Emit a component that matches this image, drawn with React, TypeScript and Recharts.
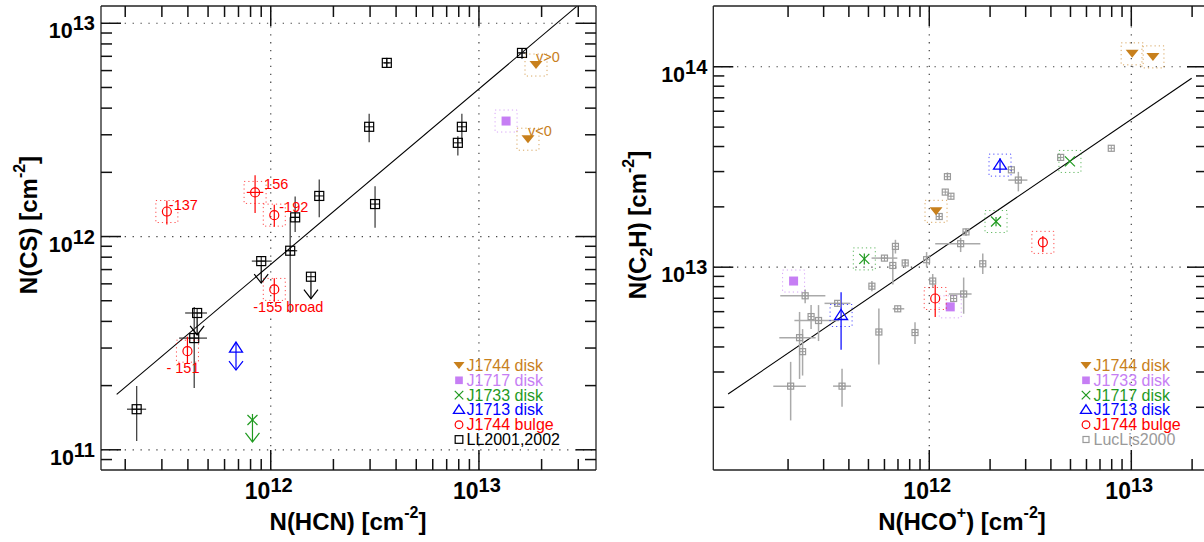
import React from "react";
import { ScatterChart, Scatter, XAxis, YAxis, ErrorBar, ReferenceLine } from "recharts";

const FONT = "'Liberation Sans', Arial, Helvetica, sans-serif";
const ORANGE = "#c8801c";
const PURPLE = "#c67ef4";
const GREEN = "#1f9a1f";
const BLUE = "#0000ff";
const RED = "#ff0000";
const GREY = "#9a9a9a";

type Range = [number, number] | null;

// ---------- left panel: N(CS) vs N(HCN) ----------
const llHCN = [2.27e11, 4.43e11, 4.29e11, 9.0e11, 1.24e12, 1.31e12, 1.56e12, 1.71e12, 3.17e12, 2.97e12, 3.61e12, 7.92e12, 8.28e12, 1.61e13];
const llCS = [1.55e11, 4.38e11, 3.34e11, 7.67e11, 8.58e11, 1.23e12, 6.48e11, 1.55e12, 1.42e12, 3.27e12, 6.52e12, 2.75e12, 3.27e12, 7.26e12];
const llHCNRange: Range[] = [[2.04e11, 2.52e11], [3.88e11, 4.94e11], [3.63e11, 4.94e11], [8.11e11, 1.01e12], [1.17e12, 1.34e12], [1.24e12, 1.38e12], null, null, null, null, [3.5e12, 3.72e12], null, null, [1.55e13, 1.67e13]];
const llCSRange: Range[] = [[1.1e11, 1.99e11], null, [1.95e11, 4.67e11], null, [4.39e11, 1.23e12], [1.05e12, 1.54e12], null, [1.23e12, 1.85e12], [1.1e12, 1.72e12], [2.77e12, 3.76e12], [6.2e12, 6.9e12], [2.4e12, 2.95e12], [2.78e12, 3.76e12], [6.8e12, 7.6e12]];
const llUpper = [false, true, false, true, false, false, true, false, false, false, false, false, false, false];

const bulgeHCN = [3.17e11, 8.41e11, 1.04e12, 1.04e12, 3.98e11];
const bulgeCS = [1.31e12, 1.61e12, 1.26e12, 5.65e11, 2.9e11];
const bulgeHCNRange: Range[] = [null, [7.67e11, 9.21e11], null, null, null];
const bulgeCSRange: Range[] = [[1.14e12, 1.47e12], [1.29e12, 1.94e12], [1.11e12, 1.41e12], [4.94e11, 6.38e11], [2.54e11, 3.39e11]];
const bulgeLabels = ["-137", "156", "-192", "-155 broad", "- 151"];

const j1713HCN = [6.81e11];
const j1713CS = [3.0e11];
const j1733HCN = [8.17e11];
const j1733CS = [1.38e11];
const j1717HCN = [1.35e13];
const j1717CS = [3.48e12];
const diskHCN = [1.88e13, 1.72e13];
const diskCS = [6.37e12, 2.86e12];
const diskLabels = ["v>0", "v<0"];

const fitHCN = [1.82e11, 2.95e13];
const fitCS = [1.82e11, 1.2e13];

const L_XDOM = [1.53e11, 3.65e13];
const L_YDOM = [8.04e10, 1.205e13];
const L_XTICKS = [2e11, 3e11, 4e11, 5e11, 6e11, 7e11, 8e11, 9e11, 1e12, 2e12, 3e12, 4e12, 5e12, 6e12, 7e12, 8e12, 9e12, 1e13, 2e13, 3e13];
const L_YTICKS = [9e10, 1e11, 2e11, 3e11, 4e11, 5e11, 6e11, 7e11, 8e11, 9e11, 1e12, 2e12, 3e12, 4e12, 5e12, 6e12, 7e12, 8e12, 9e12, 1e13];
const L_XGRID = [1e12, 1e13];
const L_YGRID = [1e11, 1e12, 1e13];

// ---------- right panel: N(C2H) vs N(HCO+) ----------
const lucHCO = [7.96e12, 4.47e12, 2.55e12, 2.76e12, 1.23e12, 1.2e12, 1.28e12, 1.12e12, 1.52e12, 1.43e12, 1.84e12, 9.7e11, 6.8e11, 6.0e11, 6.6e11, 7.6e11, 5.2e11, 1.04e12, 1.32e12, 1.48e12, 6.98e11, 5.63e11, 8.5e11, 3.52e11, 2.43e11, 2.6e11, 2.83e11, 2.28e11, 2.36e11, 2.06e11, 3.7e11];
const lucC2H = [3.92e13, 3.53e13, 3.06e13, 2.72e13, 2.83e13, 2.37e13, 2.26e13, 1.79e13, 1.5e13, 1.31e13, 1.04e13, 1.09e13, 1.27e13, 1.11e13, 1.02e13, 1.05e13, 8.04e12, 8.53e12, 6.98e12, 7.35e12, 6.2e12, 4.75e12, 4.72e12, 6.6e12, 7.2e12, 5.67e12, 5.42e12, 4.45e12, 3.79e12, 2.55e12, 2.55e12];
const lucHCORange: Range[] = [null, null, null, [2.46e12, 3.06e12], null, null, null, null, null, [1.07e12, 1.79e12], null, null, null, [5.18e11, 6.95e11], null, null, null, null, null, [1.25e12, 1.62e12], [6.59e11, 7.52e11], null, null, [3.03e11, 4.07e11], [1.83e11, 3.06e11], null, [2.15e11, 3.57e11], [1.81e11, 2.74e11], null, [1.69e11, 2.45e11], [3.34e11, 4.1e11]];
const lucC2HRange: Range[] = [null, null, null, [2.39e13, 2.99e13], [2.72e13, 2.97e13], null, null, [1.72e13, 1.86e13], [1.43e13, 1.56e13], [1.19e13, 1.4e13], [9.25e12, 1.17e13], [1.0e13, 1.19e13], [1.17e13, 1.37e13], null, [8.2e12, 1.24e13], [9.9e12, 1.1e13], [7.59e12, 8.53e12], [7.89e12, 9.25e12], null, [5.86e12, 8.88e12], null, [3.27e12, 6.22e12], [4.14e12, 5.31e12], null, [6.6e12, 7.73e12], [4.91e12, 6.47e12], [4.28e12, 6.47e12], [2.77e12, 5.98e12], [2.88e12, 4.91e12], [1.72e12, 3.37e12], [2.01e12, 3.11e12]];

const rDiskHCO = [1.08e12, 1.01e13, 1.28e13];
const rDiskC2H = [1.9e13, 1.16e14, 1.12e14];
const rJ1733HCO = [2.13e11, 1.27e12];
const rJ1733C2H = [8.53e12, 6.34e12];
const rJ1717HCO = [4.77e11, 2.14e12, 4.97e12];
const rJ1717C2H = [1.1e13, 1.69e13, 3.37e13];
const rJ1717C2HRange: Range[] = [[1.03e13, 1.17e13], [1.6e13, 1.78e13], null];
const rJ1713HCO = [3.66e11, 2.24e12];
const rJ1713C2H = [5.74e12, 3.23e13];
const rJ1713C2HRange: Range[] = [[3.87e12, 7.5e12], [2.95e13, 3.5e13]];
const rBulgeHCO = [1.07e12, 3.65e12];
const rBulgeC2H = [6.98e12, 1.33e13];
const rBulgeC2HRange: Range[] = [[5.64e12, 8.2e12], [1.19e13, 1.43e13]];

const rFitHCO = [1.01e11, 1.99e13];
const rFitC2H = [2.33e12, 8.77e13];

const R_XDOM = [8.53e10, 2.37e13];
const R_YDOM = [9.73e11, 2.01e14];
const R_XTICKS = [2e11, 3e11, 4e11, 5e11, 6e11, 7e11, 8e11, 9e11, 1e12, 2e12, 3e12, 4e12, 5e12, 6e12, 7e12, 8e12, 9e12, 1e13, 2e13];
const R_YTICKS = [2e12, 3e12, 4e12, 5e12, 6e12, 7e12, 8e12, 9e12, 1e13, 2e13, 3e13, 4e13, 5e13, 6e13, 7e13, 8e13, 9e13, 1e14];
const R_XGRID = [1e12, 1e13];
const R_YGRID = [1e13, 1e14];

const leftLegend = ["J1744 disk", "J1717 disk", "J1733 disk", "J1713 disk", "J1744 bulge", "LL2001,2002"];
const rightLegend = ["J1744 disk", "J1733 disk", "J1717 disk", "J1713 disk", "J1744 bulge", "LucLis2000"];

// label placement relative to the marker (style only)
const LABEL_SHIFT: Record<string, [number, number]> = {
  "-137": [2, -2],
  "156": [9, -3],
  "-192": [5, -3],
  "-155 broad": [-21, 23],
  "- 151": [-21, 22],
  "v>0": [0, -3],
  "v<0": [0, -3],
};

function table(xs: number[], ys: number[], xr?: Range[], yr?: Range[], tags?: any[], labels?: string[]) {
  return xs.map((x, i) => {
    const y = ys[i];
    const a = xr ? xr[i] : null;
    const b = yr ? yr[i] : null;
    return {
      x,
      y,
      ex: a ? [x - a[0], a[1] - x] : [0, 0],
      ey: b ? [y - b[0], b[1] - y] : [0, 0],
      tag: tags ? tags[i] : undefined,
      label: labels ? labels[i] : undefined,
    };
  });
}

const llRows = table(llHCN, llCS, llHCNRange, llCSRange, llUpper);
const bulgeRows = table(bulgeHCN, bulgeCS, bulgeHCNRange, bulgeCSRange, undefined, bulgeLabels);
const j1713Rows = table(j1713HCN, j1713CS, undefined, undefined, [true]);
const j1733Rows = table(j1733HCN, j1733CS, undefined, undefined, [true]);
const j1717Rows = table(j1717HCN, j1717CS);
const diskRows = table(diskHCN, diskCS, undefined, undefined, undefined, diskLabels);
const leftFit = fitHCN.map((x, i) => ({ x, y: fitCS[i] }));

const lucRows = table(lucHCO, lucC2H, lucHCORange, lucC2HRange);
const rDiskRows = table(rDiskHCO, rDiskC2H);
const rJ1733Rows = table(rJ1733HCO, rJ1733C2H);
const rJ1717Rows = table(rJ1717HCO, rJ1717C2H, undefined, rJ1717C2HRange, [true, true, false]);
const rJ1713Rows = table(rJ1713HCO, rJ1713C2H, undefined, rJ1713C2HRange);
const rBulgeRows = table(rBulgeHCO, rBulgeC2H, undefined, rBulgeC2HRange);
const rightFit = rFitHCO.map((x, i) => ({ x, y: rFitC2H[i] }));

const MINOR = 11;
const MAJOR = 20;
const isMajor = (v: number) => {
  const e = Math.log10(v);
  return Math.abs(e - Math.round(e)) < 1e-6;
};

// inward frame ticks (ROOT style), laid out on the same log mapping as the plot box
function FrameTicks({ box, xDom, yDom, xTicks, yTicks }: { box: number[]; xDom: number[]; yDom: number[]; xTicks: number[]; yTicks: number[] }) {
  const [x0, y0, x1, y1] = box;
  const lx0 = Math.log10(xDom[0]);
  const lx1 = Math.log10(xDom[1]);
  const ly0 = Math.log10(yDom[0]);
  const ly1 = Math.log10(yDom[1]);
  const px = (v: number) => x0 + ((Math.log10(v) - lx0) / (lx1 - lx0)) * (x1 - x0);
  const py = (v: number) => y1 - ((Math.log10(v) - ly0) / (ly1 - ly0)) * (y1 - y0);
  return (
    <g stroke="#111" strokeWidth={1.5}>
      {xTicks.map((v) => {
        const len = isMajor(v) ? MAJOR : MINOR;
        const x = px(v);
        return (
          <g key={"x" + v}>
            <line x1={x} y1={y1} x2={x} y2={y1 - len} />
            <line x1={x} y1={y0} x2={x} y2={y0 + len} />
          </g>
        );
      })}
      {yTicks.map((v) => {
        const len = isMajor(v) ? MAJOR : MINOR;
        const y = py(v);
        return (
          <g key={"y" + v}>
            <line x1={x0} y1={y} x2={x0 + len} y2={y} />
            <line x1={x1} y1={y} x2={x1 - len} y2={y} />
          </g>
        );
      })}
    </g>
  );
}

// ---------- marker drawing ----------
function Box({ cx, cy, color }: { cx: number; cy: number; color: string }) {
  return <rect x={cx - 11} y={cy - 11} width={22} height={22} fill="none" stroke={color} strokeOpacity={0.7} strokeWidth={1} strokeDasharray="1.2 3" />;
}

function Arrow({ cx, cy, color, from = 0 }: { cx: number; cy: number; color: string; from?: number }) {
  const tip = cy + 22;
  return (
    <g stroke={color} strokeWidth={1.2} fill="none">
      <line x1={cx} y1={cy + from} x2={cx} y2={tip} />
      <polyline points={`${cx - 7},${tip - 9} ${cx},${tip} ${cx + 7},${tip - 9}`} />
    </g>
  );
}

function Mark({ kind, cx, cy, small }: { kind: string; cx: number; cy: number; small?: boolean }) {
  const k = small ? 0.85 : 1;
  switch (kind) {
    case "tri":
      return <polygon points={`${cx - 6.5 * k},${cy - 4 * k} ${cx + 6.5 * k},${cy - 4 * k} ${cx},${cy + 4 * k}`} fill={ORANGE} />;
    case "fsq":
      return <rect x={cx - 4.5 * k} y={cy - 4.5 * k} width={9 * k} height={9 * k} fill={PURPLE} />;
    case "x":
      return (
        <g stroke={GREEN} strokeWidth={1.2}>
          <line x1={cx - 5 * k} y1={cy - 5 * k} x2={cx + 5 * k} y2={cy + 5 * k} />
          <line x1={cx - 5 * k} y1={cy + 5 * k} x2={cx + 5 * k} y2={cy - 5 * k} />
        </g>
      );
    case "otri":
      return <polygon points={`${cx},${cy - 6 * k} ${cx + 6.5 * k},${cy + 4 * k} ${cx - 6.5 * k},${cy + 4 * k}`} fill="none" stroke={BLUE} strokeWidth={1.3} />;
    case "circ":
      return <circle cx={cx} cy={cy} r={4.5 * k} fill="none" stroke={RED} strokeWidth={1.2} />;
    case "osq":
      return <rect x={cx - 4.5 * k} y={cy - 4.5 * k} width={9 * k} height={9 * k} fill="none" stroke="#000" strokeWidth={1.2} />;
    case "gsq":
      return <rect x={cx - 3} y={cy - 3} width={6} height={6} fill="none" stroke={GREY} strokeWidth={1.2} />;
    default:
      return null;
  }
}

function PointLabel({ cx, cy, text, color }: { cx: number; cy: number; text?: string; color: string }) {
  if (!text) return null;
  const d = LABEL_SHIFT[text] || [4, -4];
  return (
    <text x={cx + d[0]} y={cy + d[1]} fill={color} fontSize={14.5} fontFamily={FONT}>
      {text}
    </text>
  );
}

const llShape = (p: any) => (
  <g>
    <Mark kind="osq" cx={p.cx} cy={p.cy} />
    <line x1={p.cx - 4.5} y1={p.cy} x2={p.cx + 4.5} y2={p.cy} stroke="#000" strokeWidth={1} />
    <line x1={p.cx} y1={p.cy - 4.5} x2={p.cx} y2={p.cy + 4.5} stroke="#000" strokeWidth={1} />
    {p.payload.tag ? <Arrow cx={p.cx} cy={p.cy} color="#000" from={4.5} /> : null}
  </g>
);
const bulgeShape = (p: any) => (
  <g>
    <Box cx={p.cx} cy={p.cy} color={RED} />
    <Mark kind="circ" cx={p.cx} cy={p.cy} />
    <PointLabel cx={p.cx} cy={p.cy} text={p.payload.label} color={RED} />
  </g>
);
const diskShape = (p: any) => (
  <g>
    <Box cx={p.cx} cy={p.cy} color={ORANGE} />
    <Mark kind="tri" cx={p.cx} cy={p.cy} />
    <PointLabel cx={p.cx} cy={p.cy} text={p.payload.label} color={ORANGE} />
  </g>
);
const purpleShape = (p: any) => (
  <g>
    <Box cx={p.cx} cy={p.cy} color={PURPLE} />
    <Mark kind="fsq" cx={p.cx} cy={p.cy} />
  </g>
);
const blueLeftShape = (p: any) => (
  <g>
    <Mark kind="otri" cx={p.cx} cy={p.cy} />
    <Arrow cx={p.cx} cy={p.cy} color={BLUE} from={-6} />
  </g>
);
const greenLeftShape = (p: any) => (
  <g>
    <Mark kind="x" cx={p.cx} cy={p.cy} />
    <Arrow cx={p.cx} cy={p.cy} color={GREEN} from={-6} />
  </g>
);
const greenRightShape = (p: any) => (
  <g>
    <Box cx={p.cx} cy={p.cy} color={GREEN} />
    <Mark kind="x" cx={p.cx} cy={p.cy} />
  </g>
);
const blueRightShape = (p: any) => (
  <g>
    <Box cx={p.cx} cy={p.cy} color={BLUE} />
    <Mark kind="otri" cx={p.cx} cy={p.cy} />
  </g>
);
const lucShape = (p: any) => (
  <g>
    <Mark kind="gsq" cx={p.cx} cy={p.cy} />
    <line x1={p.cx - 3} y1={p.cy} x2={p.cx + 3} y2={p.cy} stroke={GREY} strokeWidth={1} />
    <line x1={p.cx} y1={p.cy - 3} x2={p.cx} y2={p.cy + 3} stroke={GREY} strokeWidth={1} />
  </g>
);

// ---------- axes ----------
function makeTick(side: string, labelled: boolean) {
  return function Tick(props: any) {
    const x = Number(props.x);
    const y = Number(props.y);
    const v = Number(props.payload && props.payload.value);
    if (!labelled || !isMajor(v)) return <g />;
    const n = Math.round(Math.log10(v));
    return side === "bottom" ? (
      <text x={x - 2} y={y + 29} textAnchor="middle" fontFamily={FONT} fontWeight="bold" fill="#000" stroke="none">
        <tspan fontSize={23}>10</tspan>
        <tspan fontSize={20} dy={-7}>{n}</tspan>
      </text>
    ) : (
      <text x={x - 6} y={y + 15} textAnchor="end" fontFamily={FONT} fontWeight="bold" fill="#000" stroke="none">
        <tspan fontSize={21.5}>10</tspan>
        <tspan fontSize={20} dy={-8}>{n}</tspan>
      </text>
    );
  };
}

function axisProps(domain: number[], ticks: number[], side: string, labelled: boolean) {
  return {
    type: "number" as const,
    scale: "log" as const,
    domain,
    allowDataOverflow: true,
    ticks,
    interval: 0 as const,
    tickLine: false,
    tickSize: 0,
    tickMargin: 0,
    axisLine: { stroke: "#222", strokeWidth: 1.3 },
    tick: makeTick(side, labelled),
  };
}

const GRID = { stroke: "#444", strokeWidth: 1.2, strokeDasharray: "1.3 6.6" };

function LegendBlock({ x, labels, kinds, colors }: { x: number; labels: string[]; kinds: string[]; colors: string[] }) {
  return (
    <g>
      {labels.map((t, i) => {
        const base = 371 + i * 14.8;
        return (
          <g key={t}>
            <Mark kind={kinds[i]} cx={x} cy={base - 5.5} small />
            <text x={x + 7.5} y={base} fontSize={16} fill={colors[i]} fontFamily={FONT}>
              {t}
            </text>
          </g>
        );
      })}
    </g>
  );
}

export default function App() {
  return (
    <div style={{ position: "absolute", left: 0, top: 0, width: 1204, height: 542, overflow: "hidden", background: "#fff" }}>
      <div style={{ position: "absolute", left: 0, top: 0 }}>
        <ScatterChart width={600} height={542} margin={{ top: 5, right: 3, bottom: 71, left: 100 }}>
          <XAxis dataKey="x" height={1} {...axisProps(L_XDOM, L_XTICKS, "bottom", true)} />
          <XAxis xAxisId="top" orientation="top" dataKey="x" height={1} {...axisProps(L_XDOM, L_XTICKS, "top", false)} />
          <YAxis dataKey="y" width={1} {...axisProps(L_YDOM, L_YTICKS, "left", true)} />
          <YAxis yAxisId="right" orientation="right" dataKey="y" width={1} {...axisProps(L_YDOM, L_YTICKS, "right", false)} />
          {L_XGRID.map((v) => (
            <ReferenceLine key={"gx" + v} x={v} {...GRID} />
          ))}
          {L_YGRID.map((v) => (
            <ReferenceLine key={"gy" + v} y={v} {...GRID} />
          ))}
          <ReferenceLine segment={leftFit} stroke="#000" strokeWidth={1.1} />
          <Scatter data={llRows} shape={llShape} isAnimationActive={false}>
            <ErrorBar dataKey="ex" direction="x" width={0} stroke="#333" strokeWidth={1.2} />
            <ErrorBar dataKey="ey" direction="y" width={0} stroke="#444" strokeWidth={1.3} />
          </Scatter>
          <Scatter data={bulgeRows} shape={bulgeShape} isAnimationActive={false}>
            <ErrorBar dataKey="ex" direction="x" width={0} stroke={RED} strokeWidth={1.2} />
            <ErrorBar dataKey="ey" direction="y" width={0} stroke={RED} strokeWidth={1.2} />
          </Scatter>
          <Scatter data={j1713Rows} shape={blueLeftShape} isAnimationActive={false} />
          <Scatter data={j1733Rows} shape={greenLeftShape} isAnimationActive={false} />
          <Scatter data={j1717Rows} shape={purpleShape} isAnimationActive={false} />
          <Scatter data={diskRows} shape={diskShape} isAnimationActive={false} />
        </ScatterChart>
      </div>

      <div style={{ position: "absolute", left: 600, top: 0 }}>
        <ScatterChart width={612} height={542} margin={{ top: 5, right: 4, bottom: 71, left: 112.3 }}>
          <XAxis dataKey="x" height={1} {...axisProps(R_XDOM, R_XTICKS, "bottom", true)} />
          <XAxis xAxisId="top" orientation="top" dataKey="x" height={1} {...axisProps(R_XDOM, R_XTICKS, "top", false)} />
          <YAxis dataKey="y" width={1} {...axisProps(R_YDOM, R_YTICKS, "left", true)} />
          <YAxis yAxisId="right" orientation="right" dataKey="y" width={1} {...axisProps(R_YDOM, R_YTICKS, "right", false)} />
          {R_XGRID.map((v) => (
            <ReferenceLine key={"gx" + v} x={v} {...GRID} />
          ))}
          {R_YGRID.map((v) => (
            <ReferenceLine key={"gy" + v} y={v} {...GRID} />
          ))}
          <ReferenceLine segment={rightFit} stroke="#000" strokeWidth={1.1} />
          <Scatter data={lucRows} shape={lucShape} isAnimationActive={false}>
            <ErrorBar dataKey="ex" direction="x" width={0} stroke="#aaa" strokeWidth={1.5} />
            <ErrorBar dataKey="ey" direction="y" width={0} stroke="#aaa" strokeWidth={1.5} />
          </Scatter>
          <Scatter data={rDiskRows} shape={diskShape} isAnimationActive={false} />
          <Scatter data={rJ1733Rows} shape={purpleShape} isAnimationActive={false} />
          <Scatter data={rJ1717Rows} shape={greenRightShape} isAnimationActive={false}>
            <ErrorBar dataKey="ey" direction="y" width={0} stroke={GREEN} strokeWidth={1.2} />
          </Scatter>
          <Scatter data={rJ1713Rows} shape={blueRightShape} isAnimationActive={false}>
            <ErrorBar dataKey="ey" direction="y" width={0} stroke={BLUE} strokeWidth={1.2} />
          </Scatter>
          <Scatter data={rBulgeRows} shape={bulgeShape} isAnimationActive={false}>
            <ErrorBar dataKey="ey" direction="y" width={0} stroke={RED} strokeWidth={1.2} />
          </Scatter>
        </ScatterChart>
      </div>

      <svg width={1204} height={542} style={{ position: "absolute", left: 0, top: 0, pointerEvents: "none" }} fontFamily={FONT}>
        <FrameTicks box={[101, 6, 596, 470]} xDom={L_XDOM} yDom={L_YDOM} xTicks={L_XTICKS} yTicks={L_YTICKS} />
        <FrameTicks box={[713.3, 6, 1207, 470]} xDom={R_XDOM} yDom={R_YDOM} xTicks={R_XTICKS} yTicks={R_YTICKS} />
        <text x={348} y={530} textAnchor="middle" fontSize={24} fontWeight="bold" fill="#000">
          N(HCN) [cm<tspan dy={-12} fontSize={16}>-2</tspan>
          <tspan dy={12}>]</tspan>
        </text>
        <text transform="translate(37,225) rotate(-90)" textAnchor="middle" fontSize={24} fontWeight="bold" fill="#000">
          N(CS) [cm<tspan dy={-12} fontSize={16}>-2</tspan>
          <tspan dy={12}>]</tspan>
        </text>
        <text x={962} y={530} textAnchor="middle" fontSize={24} fontWeight="bold" fill="#000">
          N(HCO<tspan dy={-12} fontSize={16}>+</tspan>
          <tspan dy={12}>) [cm</tspan>
          <tspan dy={-12} fontSize={16}>-2</tspan>
          <tspan dy={12}>]</tspan>
        </text>
        <text transform="translate(646,225) rotate(-90)" textAnchor="middle" fontSize={24} fontWeight="bold" fill="#000">
          N(C<tspan dy={6} fontSize={16}>2</tspan>
          <tspan dy={-6}>H) [cm</tspan>
          <tspan dy={-12} fontSize={16}>-2</tspan>
          <tspan dy={12}>]</tspan>
        </text>
        <LegendBlock
          x={459}
          labels={leftLegend}
          kinds={["tri", "fsq", "x", "otri", "circ", "osq"]}
          colors={[ORANGE, PURPLE, GREEN, BLUE, RED, "#000"]}
        />
        <LegendBlock
          x={1086}
          labels={rightLegend}
          kinds={["tri", "fsq", "x", "otri", "circ", "gsq"]}
          colors={[ORANGE, PURPLE, GREEN, BLUE, RED, GREY]}
        />
      </svg>
    </div>
  );
}
